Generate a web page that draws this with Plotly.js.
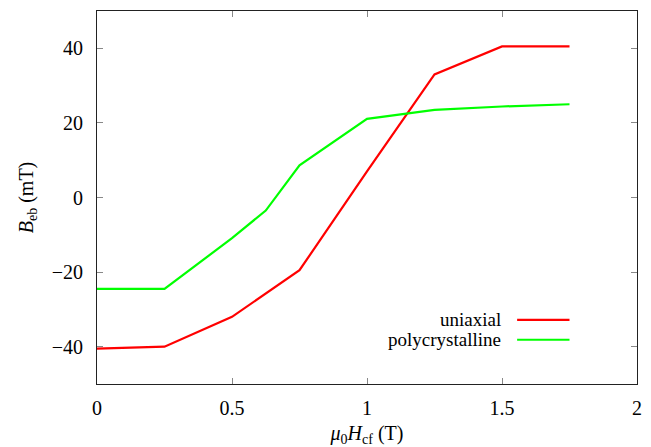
<!DOCTYPE html>
<html>
<head>
<meta charset="utf-8">
<script src="https://cdn.plot.ly/plotly-3.0.1.min.js"></script>
<style>html,body{margin:0;padding:0;background:#fff;}#chart{width:651px;height:447px;}</style>
</head>
<body>
<div id="chart"></div>
<script>
const fieldT = [0, 0.25, 0.5, 0.75, 1.0, 1.25, 1.5, 1.75];
const uniaxial = [-40.5, -40, -32, -19.5, 7, 33, 40.5, 40.5];
const polyField = [0, 0.25, 0.5, 0.625, 0.75, 1.0, 1.25, 1.5, 1.75];
const polycrystalline = [-24.5, -24.5, -10.9, -3.5, 8.6, 21.1, 23.5, 24.4, 25.0];
const seriesNames = ['uniaxial', 'polycrystalline'];
const seriesColors = ['#ff0000', '#00ff00'];
const xTicks = [0, 0.5, 1, 1.5, 2];
const xTickText = ['0', '0.5', '1', '1.5', '2'];
const yTicks = [-40, -20, 0, 20, 40];
const yTickText = ['−40', '−20', '0', '20', '40'];

const FONT = 'Liberation Serif';
const FS = 20;

const traces = [
  {x: fieldT, y: uniaxial, name: seriesNames[0], mode: 'lines', line: {color: seriesColors[0], width: 2.2}, showlegend: false},
  {x: polyField, y: polycrystalline, name: seriesNames[1], mode: 'lines', line: {color: seriesColors[1], width: 2.2}, showlegend: false}
];

const legendY = [0.172, 0.1186];
const shapes = [];
const annotations = [];
seriesNames.forEach((n, i) => {
  shapes.push({type: 'line', xref: 'paper', yref: 'paper', x0: 0.778, x1: 0.875, y0: legendY[i], y1: legendY[i],
    line: {color: seriesColors[i], width: 2.2}});
  annotations.push({xref: 'paper', yref: 'paper', x: 0.752, y: legendY[i], xanchor: 'right', yanchor: 'middle',
    text: n, showarrow: false, font: {family: FONT, size: 19, color: '#000'}});
});

const axisCommon = {
  showgrid: false, zeroline: false, showline: true, linecolor: '#222', linewidth: 1,
  mirror: 'ticks', ticks: 'inside', ticklen: 6, tickcolor: '#888', tickwidth: 1,
  tickfont: {family: FONT, size: FS, color: '#000'}
};

const layout = {
  width: 651, height: 447,
  margin: {l: 97, r: 14, t: 11, b: 63},
  paper_bgcolor: '#fff', plot_bgcolor: '#fff',
  showlegend: false,
  font: {family: FONT},
  xaxis: Object.assign({}, axisCommon, {
    range: [0, 2], tickvals: xTicks, ticktext: xTickText, ticklabelstandoff: 6,
    title: {text: '<i>μ</i><sub>0</sub><i>H</i><sub>cf</sub> (T)', font: {family: FONT, size: FS, color: '#000'}, standoff: 8}
  }),
  yaxis: Object.assign({}, axisCommon, {
    range: [-50, 50], tickvals: yTicks, ticktext: yTickText, ticklabelstandoff: 9,
    title: {text: '<i>B</i><sub>eb</sub> (mT)', font: {family: FONT, size: FS, color: '#000'}, standoff: 12}
  }),
  shapes: shapes,
  annotations: annotations
};

Plotly.newPlot('chart', traces, layout, {displayModeBar: false, staticPlot: true});
</script>
</body>
</html>
